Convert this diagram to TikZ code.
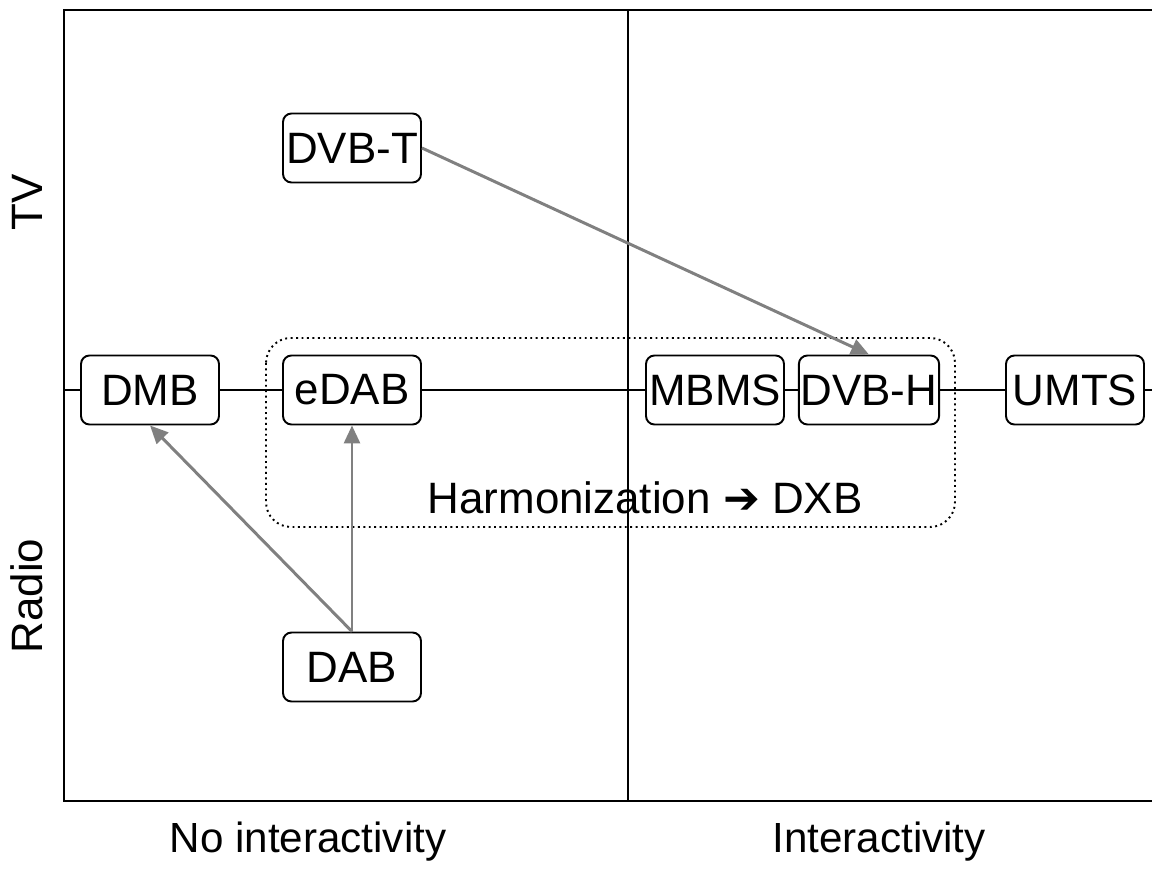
\documentclass[tikz,border=0pt]{standalone}
\usepackage{fontspec}
\setmainfont{Liberation Sans}
\newfontfamily\symfont{DejaVu Sans}
\usepackage{xcolor}
\usetikzlibrary{arrows.meta}

\begin{document}
\begin{tikzpicture}[x=0.02cm,y=-0.02cm,
    font=\fontsize{25}{29}\selectfont,
    box/.style={draw,line width=1.1pt,rounded corners=0.17cm,fill=white,
      minimum width=2.76cm,minimum height=1.38cm,inner sep=1pt},
    move/.style={draw=gray,line width=1.7pt,
      -{Triangle[length=0.36cm,width=0.32cm]}}]
    \useasboundingbox (0,0) rectangle (1152,878);
    % frame and axes
    \draw[line width=1.2pt] (1152,10) -- (64,10) -- (64,801) -- (1152,801);
    \draw[line width=1.2pt] (628,10) -- (628,801);
    \coordinate (lft) at (64,390);
    \coordinate (rgt) at (1152,390);
    % harmonization area
    \draw[line width=1.1pt,dotted,rounded corners=0.5cm] (266,338) rectangle (955,527);
    \node (harm) at (645,498) {Harmonization {\symfont\bfseries ➔} DXB};
    % standards
    \node [box] (dvbt) at (352,148) {DVB-T};
    \node [box] (dmb)  at (150,390) {DMB};
    \node [box] (edab) at (352,390) {eDAB};
    \node [box] (mbms) at (715,390) {MBMS};
    \node [box] (dvbh) at (869,390) {DVB-H};
    \node [box] (umts) at (1075,390) {UMTS};
    \node [box] (dab)  at (352,667) {DAB};
    \draw[line width=1.1pt] (lft) -- (dmb) -- (edab) -- (mbms) -- (dvbh) -- (umts) -- (rgt);
    % evolution
    \draw[move] (dvbt.east) -- (dvbh.north);
    \draw[move] (dab.north) -- (edab.south);
    \draw[move] (dab.north) -- (dmb.south);
    % axis labels
    \node[rotate=90] (tv) at (27,202) {TV};
    \node[rotate=90] (radio) at (27,596) {Radio};
    \node[anchor=base,font=\fontsize{24}{28}\selectfont] (noint) at (308,852) {No interactivity};
    \node[anchor=base,font=\fontsize{24}{28}\selectfont] (int) at (879,852) {Interactivity};
\end{tikzpicture}
\end{document}
